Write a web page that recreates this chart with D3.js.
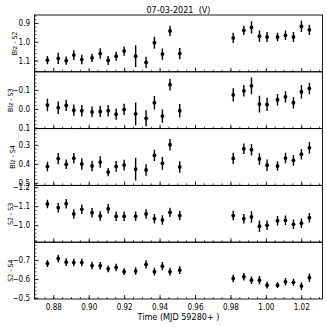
<!DOCTYPE html>
<html><head><meta charset="utf-8">
<script src="https://cdn.jsdelivr.net/npm/d3@7"></script>
<style>
body{margin:0;background:#fff;}
text{font-family:"Liberation Sans Narrow","DejaVu Sans Condensed","Arial Narrow",sans-serif;fill:#000;white-space:pre;}
</style></head><body>
<svg id="c" width="327" height="327"></svg>
<script>
const title = "07-03-2021  (V)";
const xLabel = "Time (MJD 59280+ )";
const xTicks = [0.88, 0.90, 0.92, 0.94, 0.96, 0.98, 1.00, 1.02];
const times = [0.8764,0.8825,0.8870,0.8913,0.8958,0.9016,0.9062,0.9107,0.9152,0.9197,0.9262,0.9321,0.9368,0.9413,0.9456,0.9511,
               0.9813,0.9873,0.9916,0.9961,1.0004,1.0063,1.0108,1.0153,1.0198,1.0243];

const panelLabels = ["Blz - S2","Blz - S3","Blz - S4","S2 - S3","S2 - S4"];
const panelTicks = [[0.9,1.0,1.1],[-0.1,0.0,0.1],[0.3,0.4,0.5],[-1.2,-1.1,-1.0],[-0.7,-0.6,-0.5]];
const panelDomains = [[0.855,1.157],[-0.198,0.101],[0.212,0.511],[-1.212,-0.913],[-0.796,-0.497]];

const blzS2 = [1.095,1.086,1.098,1.068,1.092,1.083,1.060,1.097,1.074,1.047,1.074,1.107,1.002,1.063,0.940,1.060,
               0.977,0.937,0.921,0.968,0.972,0.972,0.963,0.972,0.916,0.934];
const blzS2Err = [0.022,0.03,0.022,0.026,0.025,0.022,0.028,0.024,0.024,0.025,0.058,0.03,0.032,0.03,0.028,0.03,
                  0.027,0.025,0.033,0.03,0.027,0.022,0.025,0.027,0.03,0.027];
const blzS3 = [-0.023,-0.009,-0.021,0.004,0.007,0.013,0.011,0.007,0.025,0.0,0.023,0.047,-0.035,0.035,-0.13,0.007,
               -0.077,-0.098,-0.124,-0.028,-0.026,-0.051,-0.066,-0.035,-0.093,-0.11];
const blzS3Err = [0.033,0.033,0.03,0.03,0.03,0.028,0.03,0.03,0.03,0.03,0.06,0.042,0.035,0.035,0.03,0.035,
                  0.035,0.03,0.044,0.044,0.035,0.03,0.03,0.03,0.035,0.03];
const blzS4 = [0.411,0.370,0.400,0.368,0.398,0.409,0.388,0.441,0.411,0.404,0.425,0.430,0.353,0.395,0.297,0.414,
               0.369,0.318,0.323,0.372,0.405,0.409,0.367,0.379,0.347,0.313];
const blzS4Err = [0.025,0.03,0.025,0.028,0.03,0.028,0.03,0.022,0.028,0.028,0.06,0.03,0.03,0.033,0.03,0.03,
                  0.03,0.028,0.03,0.03,0.03,0.025,0.028,0.028,0.028,0.03];
const s2s3 = [-1.114,-1.095,-1.116,-1.062,-1.086,-1.068,-1.051,-1.089,-1.049,-1.049,-1.049,-1.062,-1.037,-1.030,-1.070,-1.053,
              -1.053,-1.037,-1.046,-0.997,-1.002,-1.026,-1.028,-1.007,-1.013,-1.042];
const s2s3Err = [0.022,0.025,0.025,0.025,0.025,0.025,0.025,0.025,0.025,0.025,0.025,0.025,0.025,0.025,0.025,0.025,
                 0.025,0.025,0.03,0.03,0.025,0.025,0.025,0.025,0.025,0.025];
const s2s4 = [-0.684,-0.710,-0.691,-0.689,-0.689,-0.673,-0.672,-0.656,-0.663,-0.641,-0.644,-0.679,-0.641,-0.670,-0.641,-0.649,
              -0.605,-0.614,-0.596,-0.596,-0.570,-0.570,-0.588,-0.585,-0.565,-0.609];
const s2s4Err = [0.018,0.02,0.02,0.02,0.02,0.02,0.02,0.018,0.02,0.018,0.02,0.022,0.02,0.022,0.02,0.02,
                 0.02,0.02,0.02,0.022,0.018,0.015,0.02,0.018,0.02,0.022];

const series = [[blzS2,blzS2Err],[blzS3,blzS3Err],[blzS4,blzS4Err],[s2s3,s2s3Err],[s2s4,s2s4Err]];
const labelX = [14.5,10.5,12.5,10.5,10.5];

const svg = d3.select("#c");
const L = 34.5, R = 322.5, T = 15, B = 299;
const ph = (B - T) / 5;
const x = d3.scaleLinear().domain([0.8691, 1.0317]).range([L, R]);

svg.append("text").attr("x",(L+R)/2).attr("y",10).attr("text-anchor","middle")
   .attr("dominant-baseline","middle").style("font-size","9px").text(title);
svg.append("text").attr("x",(L+R)/2).attr("y",317).attr("text-anchor","middle")
   .attr("dominant-baseline","middle").style("font-size","9px").text(xLabel);

series.forEach(([vals, errs], i) => {
  const top = T + i*ph, bot = top + ph;
  const y = d3.scaleLinear().domain(panelDomains[i]).range([top, bot]);
  const g = svg.append("g");
  const cid = "clip"+i;
  svg.append("clipPath").attr("id",cid).append("rect").attr("x",L).attr("y",top).attr("width",R-L).attr("height",ph);
  const xMinor = d3.range(0.870, 1.0315, 0.005);
  g.selectAll(".xm").data(xMinor).join("line")
    .attr("x1",d=>x(d)).attr("x2",d=>x(d)).attr("y1",bot).attr("y2",bot-2)
    .attr("stroke","#000").attr("stroke-width",0.7);
  g.selectAll(".xM").data(xTicks).join("line")
    .attr("x1",d=>x(d)).attr("x2",d=>x(d)).attr("y1",bot).attr("y2",bot-4)
    .attr("stroke","#000").attr("stroke-width",0.8);
  const d0 = Math.min(...panelDomains[i]), d1 = Math.max(...panelDomains[i]);
  const yMinor = d3.range(Math.ceil(d0/0.02-1e-6), Math.floor(d1/0.02+1e-6)+1).map(k=>k*0.02);
  g.selectAll(".ym").data(yMinor).join("line")
    .attr("x1",L).attr("x2",L+2).attr("y1",d=>y(d)).attr("y2",d=>y(d))
    .attr("stroke","#000").attr("stroke-width",0.7);
  g.selectAll(".yM").data(panelTicks[i]).join("line")
    .attr("x1",L).attr("x2",L+4).attr("y1",d=>y(d)).attr("y2",d=>y(d))
    .attr("stroke","#000").attr("stroke-width",0.8);
  g.selectAll(".yl").data(panelTicks[i]).join("text")
    .attr("x",L-4.5).attr("y",d=>y(d)).attr("text-anchor","end").attr("dominant-baseline","central")
    .style("font-size","8px").text(d=>d3.format(".1f")(d).replace("-","\u2212"));
  g.append("text").attr("transform",`translate(${labelX[i]},${(top+bot)/2}) rotate(-90)`)
    .attr("text-anchor","middle").attr("dominant-baseline","central").style("font-size","7px").text(panelLabels[i]);
  const dg = g.append("g").attr("clip-path",`url(#${cid})`);
  dg.selectAll("line.err").data(times).join("line").attr("class","err")
    .attr("x1",d=>x(d)).attr("x2",d=>x(d))
    .attr("y1",(d,j)=>y(vals[j]-errs[j])).attr("y2",(d,j)=>y(vals[j]+errs[j]))
    .attr("stroke","#000").attr("stroke-width",1.4);
  dg.selectAll("circle").data(times).join("circle")
    .attr("cx",d=>x(d)).attr("cy",(d,j)=>y(vals[j])).attr("r",1.9).attr("fill","#000");
  g.append("rect").attr("x",L).attr("y",top).attr("width",R-L).attr("height",ph)
    .attr("fill","none").attr("stroke","#000").attr("stroke-width",0.9);
  if (i === 4) {
    g.selectAll(".xl").data(xTicks).join("text")
      .attr("x",d=>x(d)).attr("y",bot+8).attr("text-anchor","middle").attr("dominant-baseline","middle")
      .style("font-size","8px").text(d=>d3.format(".2f")(d));
  }
});
</script>
</body></html>
